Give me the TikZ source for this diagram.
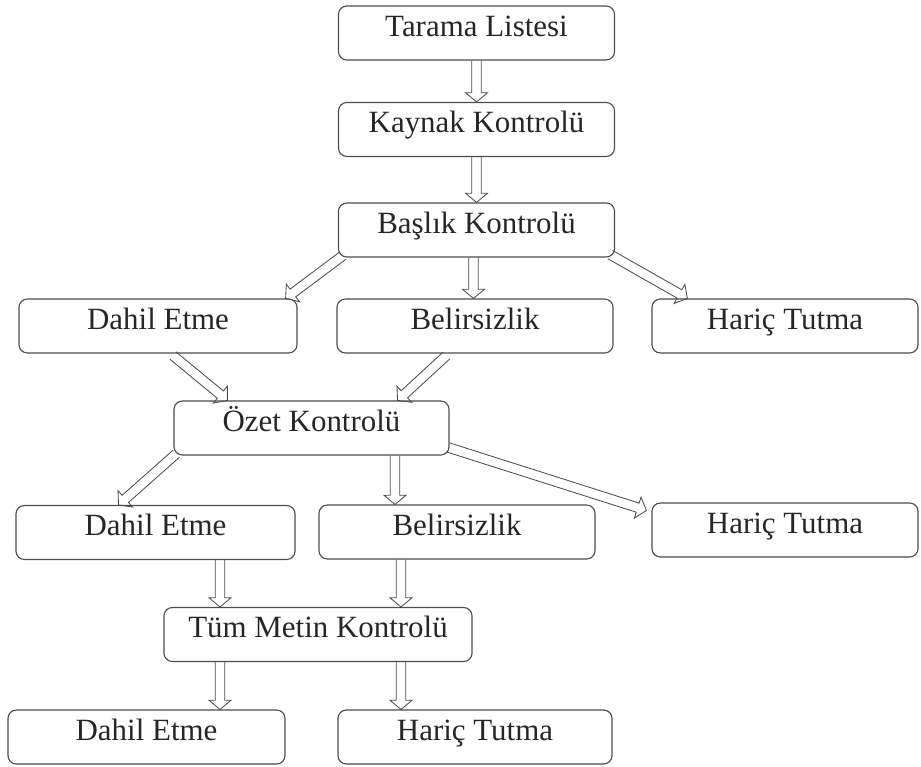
\documentclass[tikz,border=0pt]{standalone}
\usepackage{fontspec}
\setmainfont{Liberation Serif}
\usepackage{tikz}
\usetikzlibrary{calc}

\begin{document}
\begin{tikzpicture}[
    x=0.025cm,y=-0.025cm,
    box/.style={draw=black!70,line width=.8pt,rounded corners=6pt,
        minimum width=6.9cm,minimum height=1.35cm,inner sep=0pt,
        text height=.7em,text depth=.22em,
        font={\fontsize{22}{26}\selectfont},text=black!85},
    % hollow block arrow: two shaft lines and an open head
    blockarrow/.style={draw=black!70,line width=.6pt,line join=miter,
        to path={
            ($(\tikztostart)!3.4pt!90:(\tikztotarget)$)
            -- ($(\tikztotarget)!6.5pt!(\tikztostart)!3.4pt!-90:(\tikztostart)$)
            -- ($(\tikztotarget)!6.5pt!(\tikztostart)!7.8pt!-90:(\tikztostart)$)
            -- (\tikztotarget)
            -- ($(\tikztotarget)!6.5pt!(\tikztostart)!7.8pt!90:(\tikztostart)$)
            -- ($(\tikztotarget)!6.5pt!(\tikztostart)!3.4pt!90:(\tikztostart)$)
            -- ($(\tikztostart)!3.4pt!-90:(\tikztotarget)$)}},
    ]
    \useasboundingbox (0,0) rectangle (921,767);

    % Screening steps
    \node[box] (tarama) at (476.5,33) {Tarama Listesi};
    \node[box] (kaynak) at (476.5,129.5) {Kaynak Kontrolü};
    \node[box] (bas) at (476.5,230) {Başlık Kontrolü};
    % Title check results
    \node[box,minimum width=6.95cm] (dahilA) at (158,326) {Dahil Etme};
    \node[box] (belA) at (475,326) {Belirsizlik};
    \node[box,minimum width=6.65cm] (hariA) at (785,326) {Hariç Tutma};
    % Abstract check
    \node[box,minimum width=6.875cm] (ozet) at (311.5,428) {Özet Kontrolü};
    \node[box,minimum width=6.975cm] (dahilB) at (155.5,532.5) {Dahil Etme};
    \node[box] (belB) at (457,532) {Belirsizlik};
    \node[box,minimum width=6.65cm] (hariB) at (785,530) {Hariç Tutma};
    % Full text check
    \node[box,minimum width=7.7cm] (tum) at (318,634.5) {Tüm Metin Kontrolü};
    \node[box,minimum width=6.925cm] (dahilC) at (146.5,737) {Dahil Etme};
    \node[box,minimum width=6.85cm] (hariC) at (475,737) {Hariç Tutma};

    % Arrows
    \draw[blockarrow] (tarama.south) to (kaynak.north);
    \draw[blockarrow] (kaynak.south) to (bas.north);
    \draw[blockarrow] ($(bas.south west)+(5,-2)$) to ($(dahilA.north east)+(-12,0)$);
    \coordinate (b1) at ($(bas.south)+(-3,0)$);
    \draw[blockarrow] (b1) to (b1 |- belA.north);
    \draw[blockarrow] ($(bas.south east)+(-5,-3)$) to ($(hariA.north west)+(36,0)$);
    \draw[blockarrow] ($(dahilA.south)+(15,2)$) to ($(ozet.north west)+(54,0)$);
    \draw[blockarrow] ($(belA.south west)+(110,2)$) to ($(ozet.north east)+(-52,0)$);
    \draw[blockarrow] ($(ozet.south west)+(3,-2)$) to ($(dahilB.north)+(-37,0)$);
    \coordinate (o1) at ($(ozet.south)+(83.5,0)$);
    \draw[blockarrow] (o1) to (o1 |- belB.north);
    \draw[blockarrow] ($(ozet.south east)+(-1,-8)$) to ($(hariB.north west)+(-5,8)$);
    \coordinate (d1) at ($(dahilB.south)+(64.5,0)$);
    \draw[blockarrow] (d1) to (d1 |- tum.north);
    \coordinate (e1) at ($(belB.south)+(-56,0)$);
    \draw[blockarrow] (e1) to (e1 |- tum.north);
    \coordinate (t1) at ($(tum.south)+(-98,0)$);
    \draw[blockarrow] (t1) to (t1 |- dahilC.north);
    \coordinate (t2) at ($(tum.south)+(83,0)$);
    \draw[blockarrow] (t2) to (t2 |- hariC.north);
\end{tikzpicture}
\end{document}
